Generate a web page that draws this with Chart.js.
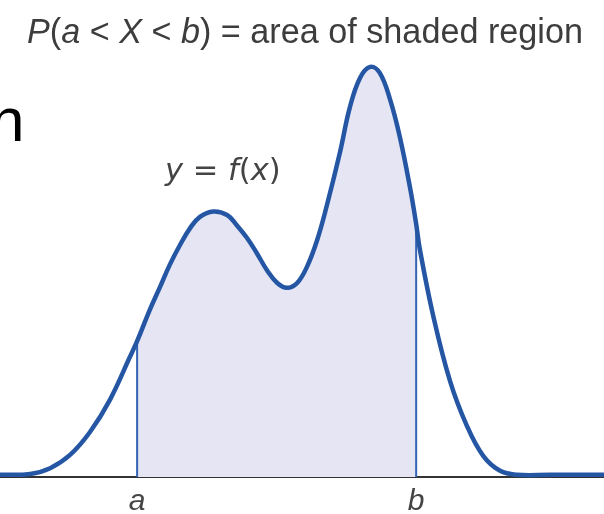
<!DOCTYPE html>
<html>
<head>
<meta charset="utf-8">
<title>P(a &lt; X &lt; b)</title>
<script src="https://cdn.jsdelivr.net/npm/chart.js@4.4.1/dist/chart.umd.min.js"></script>
<style>
    html, body { margin: 0; padding: 0; background: #fff; }
    #wrap { position: relative; width: 604px; height: 514px; overflow: hidden; }
    #densityChart { position: absolute; left: 0; top: 0; }
    .label { position: absolute; white-space: nowrap; line-height: 1; }
    #title { left: 27px; top: 12px; font: 34.2px "Liberation Sans", Arial, sans-serif; color: #3d3d3d; }
    #curveLabel { left: 165px; top: 152px; font: 30.5px "DejaVu Sans", sans-serif; color: #444; }
    #stray { left: -10px; top: 84px; font: 62px "Liberation Sans", Arial, sans-serif; color: #000; }
</style>
</head>
<body>
<div id="wrap">
    <canvas id="densityChart" width="604" height="514"></canvas>
    <div class="label" id="stray">n</div>
    <div class="label" id="title"><i>P</i>(<i>a</i> &lt; <i>X</i> &lt; <i>b</i>) = area of shaded region</div>
    <div class="label" id="curveLabel"><i>y</i> = <i>f</i>(<i>x</i>)</div>
</div>
<script>
// Density curve y = f(x)
const xValues = [0, 0.50, 0.83, 1.16, 1.49, 1.82, 2.15, 2.27, 2.48, 2.65, 2.81, 2.98, 3.15, 3.31, 3.53,
    3.76, 3.92, 4.09, 4.25, 4.42, 4.59, 4.75, 4.92, 5.08, 5.25, 5.41, 5.63, 5.79, 5.96, 6.13,
    6.29, 6.46, 6.62, 6.79, 6.89, 6.95, 7.17, 7.45, 7.73, 8.00, 8.28, 8.56, 9.11, 10];
const yValues = [0.005, 0.007, 0.020, 0.050, 0.102, 0.175, 0.272, 0.308, 0.379, 0.431, 0.481, 0.526, 0.565, 0.590, 0.602,
    0.594, 0.571, 0.542, 0.508, 0.469, 0.440, 0.429, 0.440, 0.476, 0.537, 0.615, 0.737, 0.837, 0.905, 0.930,
    0.916, 0.855, 0.771, 0.655, 0.574, 0.517, 0.367, 0.218, 0.116, 0.048, 0.014, 0.005, 0.005, 0.005];

// Interval limits and their axis labels
const boundValues = [2.27, 6.89];
const boundLabels = ['a', 'b'];

// Colours
const curveColor = '#2556a4';
const edgeColor = '#3464b4';
const shadeColor = '#e5e5f4';

// Helpers
const curvePoints = xValues.map((x, i) => ({ x, y: yValues[i] }));
const pointAt = x => curvePoints.find(p => p.x === x);
const shadedPoints = curvePoints.filter(p => p.x >= boundValues[0] && p.x <= boundValues[1]);
const edgeLine = x => [{ x, y: 0 }, { x, y: pointAt(x).y }];

// Chart Initialization
function initializeChart() {
    new Chart(document.getElementById('densityChart').getContext('2d'), {
        type: 'line',
        data: {
            datasets: [{
                label: 'f(x)',
                data: curvePoints,
                borderColor: curveColor,
                borderWidth: 4.5,
                pointRadius: 0,
                tension: 0.4,
                fill: false,
                clip: false,
                order: 0
            }, {
                label: 'lower bound',
                data: edgeLine(boundValues[0]),
                borderColor: edgeColor,
                borderWidth: 2,
                pointRadius: 0,
                fill: false,
                order: 1
            }, {
                label: 'upper bound',
                data: edgeLine(boundValues[1]),
                borderColor: edgeColor,
                borderWidth: 2,
                pointRadius: 0,
                fill: false,
                order: 1
            }, {
                label: 'shaded region',
                data: shadedPoints,
                borderWidth: 0,
                borderColor: 'rgba(0,0,0,0)',
                backgroundColor: shadeColor,
                pointRadius: 0,
                tension: 0.4,
                fill: 'origin',
                order: 2
            }]
        },
        options: {
            responsive: false,
            animation: false,
            devicePixelRatio: 1,
            layout: { padding: { top: 36, left: 0, right: 0, bottom: 0 } },
            plugins: {
                legend: { display: false },
                tooltip: { enabled: false },
                title: { display: false }
            },
            scales: {
                x: {
                    type: 'linear',
                    min: 0,
                    max: 10,
                    grid: { display: false, drawTicks: false },
                    border: { display: true, color: '#333', width: 2 },
                    afterBuildTicks: scale => {
                        scale.ticks = boundValues.map(value => ({ value }));
                    },
                    // keep the axis line low, labels sit a little further down
                    afterFit: scale => {
                        scale.height = 37;
                    },
                    ticks: {
                        padding: 7,
                        color: '#444',
                        maxRotation: 0,
                        font: { family: '"Liberation Sans", Arial, sans-serif', size: 30, style: 'italic' },
                        callback: value => boundLabels[boundValues.indexOf(value)]
                    }
                },
                y: {
                    display: false,
                    min: 0,
                    max: 1
                }
            }
        }
    });
}

document.addEventListener('DOMContentLoaded', initializeChart);
</script>
</body>
</html>
